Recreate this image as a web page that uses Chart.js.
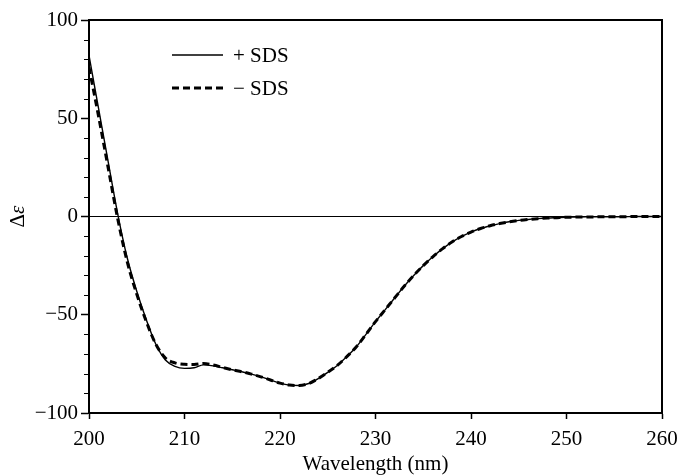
<!DOCTYPE html>
<html>
<head>
<meta charset="utf-8">
<script src="https://cdn.jsdelivr.net/npm/chart.js@4"></script>
<style>
  html, body { margin: 0; padding: 0; background: #fff; }
  #wrap { width: 681px; height: 476px; position: relative; }
</style>
</head>
<body>
<div id="wrap"><canvas id="c" width="681" height="476"></canvas></div>
<script>
// ---- data ----
const wavelengths = [200,201,202,203,204,205,206,207,208,209,210,211,212,213,214,215,216,217,218,219,220,221,222,223,224,225,226,227,228,229,230,231,232,233,234,235,236,237,238,239,240,241,242,243,244,245,246,247,248,249,250,251,252,253,254,255,256,257,258,259,260];
const withSDS = [82,55,28,1.5,-21,-38,-52.5,-65,-73,-76.3,-77.3,-77,-75.5,-76,-77,-78,-79,-80.2,-81.6,-83.2,-84.8,-85.8,-86,-85,-82.5,-79.3,-75.8,-71.3,-66.3,-60,-53.5,-47.5,-41.5,-35.5,-30,-25,-20.5,-16.5,-13,-10.2,-7.9,-6.1,-4.7,-3.6,-2.7,-2,-1.5,-1.1,-0.8,-0.6,-0.4,-0.3,-0.2,-0.2,-0.1,-0.1,-0.1,0,0,0,0];
const withoutSDS = [76,51,25,-1,-23,-39.5,-53.5,-65,-72,-74.5,-75.2,-75.3,-74.8,-75.6,-76.8,-78,-79,-80.2,-81.6,-83.2,-84.8,-85.8,-86,-85,-82.5,-79.3,-75.8,-71.3,-66.3,-60,-53.5,-47.5,-41.5,-35.5,-30,-25,-20.5,-16.5,-13,-10.2,-7.9,-6.1,-4.7,-3.6,-2.7,-2,-1.5,-1.1,-0.8,-0.6,-0.4,-0.3,-0.2,-0.2,-0.1,-0.1,-0.1,0,0,0,0];
const seriesLabels = ['+ SDS', '\u2212 SDS'];
const xTicks = [200,210,220,230,240,250,260];
const yMajorTicks = [-100,-50,0,50,100];
const yMinorTicks = [-90,-80,-70,-60,-40,-30,-20,-10,10,20,30,40,60,70,80,90];
const xTitle = 'Wavelength (nm)';

const FONT = '"Liberation Serif", "Times New Roman", serif';
const FS = 21;

const pts = (arr) => wavelengths.map((w, i) => ({x: w, y: arr[i]}));

const framePlugin = {
  id: 'frame',
  afterDraw(chart) {
    const {ctx, chartArea: a} = chart;
    const ys = chart.scales.y;
    ctx.save();
    ctx.strokeStyle = '#000';
    // minor ticks on y axis
    ctx.lineWidth = 1;
    yMinorTicks.forEach(v => {
      const py = Math.round(ys.getPixelForValue(v)) + 0.5;
      ctx.beginPath();
      ctx.moveTo(a.left - 5, py);
      ctx.lineTo(a.left, py);
      ctx.stroke();
    });
    // frame
    ctx.lineWidth = 2;
    ctx.strokeRect(a.left, a.top, a.right - a.left, a.bottom - a.top);
    // y title with italic epsilon
    ctx.fillStyle = '#000';
    ctx.translate(18, (a.top + a.bottom) / 2);
    ctx.rotate(-Math.PI / 2);
    ctx.textBaseline = 'middle';
    ctx.font = FS + 'px ' + FONT;
    const d = '\u0394', e = '\u03b5';
    const wd = ctx.measureText(d).width;
    ctx.font = 'italic ' + FS + 'px ' + FONT;
    const we = ctx.measureText(e).width;
    const start = -(wd + we) / 2;
    ctx.font = FS + 'px ' + FONT;
    ctx.textAlign = 'left';
    ctx.fillText(d, start, 0);
    ctx.font = 'italic ' + FS + 'px ' + FONT;
    ctx.fillText(e, start + wd, 0);
    ctx.restore();

    // legend
    ctx.save();
    const items = chart.data.datasets;
    const lx0 = a.left + 83, lx1 = a.left + 134;
    const rows = [a.top + 35, a.top + 68];
    items.forEach((ds, i) => {
      ctx.strokeStyle = ds.borderColor;
      ctx.lineWidth = ds.borderWidth;
      ctx.setLineDash(ds.borderDash || []);
      ctx.beginPath();
      ctx.moveTo(lx0, rows[i]);
      ctx.lineTo(lx1, rows[i]);
      ctx.stroke();
      ctx.setLineDash([]);
      ctx.fillStyle = '#000';
      ctx.font = FS + 'px ' + FONT;
      ctx.textBaseline = 'middle';
      ctx.textAlign = 'left';
      ctx.fillText(ds.label, lx1 + 10, rows[i] + 1);
    });
    ctx.restore();
  }
};

new Chart(document.getElementById('c'), {
  type: 'line',
  data: {
    datasets: [
      { label: seriesLabels[0], data: pts(withSDS), borderColor: '#000', borderWidth: 1.4,
        pointRadius: 0, tension: 0.4, cubicInterpolationMode: 'monotone', fill: false },
      { label: seriesLabels[1], data: pts(withoutSDS), borderColor: '#000', borderWidth: 3,
        borderDash: [7, 4], pointRadius: 0, tension: 0.4, cubicInterpolationMode: 'monotone', fill: false }
    ]
  },
  plugins: [framePlugin],
  options: {
    responsive: false,
    animation: false,
    layout: { padding: { left: 0, top: 20, right: 19, bottom: 0 } },
    plugins: { legend: { display: false }, tooltip: { enabled: false } },
    scales: {
      x: {
        type: 'linear', min: 200, max: 260,
        afterBuildTicks: (s) => { s.ticks = xTicks.map(v => ({value: v})); },
        afterFit: (s) => { s.height = 63; s.paddingLeft = 0; s.paddingRight = 0; },
        grid: { drawOnChartArea: false, drawTicks: true, tickLength: 6, tickColor: '#000', tickWidth: 1.5 },
        border: { display: true, color: '#000', width: 2 },
        ticks: { color: '#000', font: { family: FONT, size: FS }, padding: 8, maxRotation: 0 },
        title: { display: true, text: xTitle, color: '#000', font: { family: FONT, size: FS }, padding: { top: 0, bottom: -1 } }
      },
      y: {
        type: 'linear', min: -100, max: 100,
        afterBuildTicks: (s) => { s.ticks = yMajorTicks.map(v => ({value: v})); },
        afterFit: (s) => { s.width = 89; s.paddingTop = 0; s.paddingBottom = 0; },
        grid: {
          drawOnChartArea: true, drawTicks: true, tickLength: 8, tickColor: '#000', tickWidth: 1.5,
          color: (ctx) => (ctx.tick && ctx.tick.value === 0) ? '#000' : 'rgba(0,0,0,0)',
          lineWidth: 1
        },
        border: { display: true, color: '#000', width: 2 },
        ticks: { color: '#000', font: { family: FONT, size: FS }, padding: 3,
          callback: (v) => String(v).replace('-', '\u2212') }
      }
    }
  }
});
</script>
</body>
</html>
